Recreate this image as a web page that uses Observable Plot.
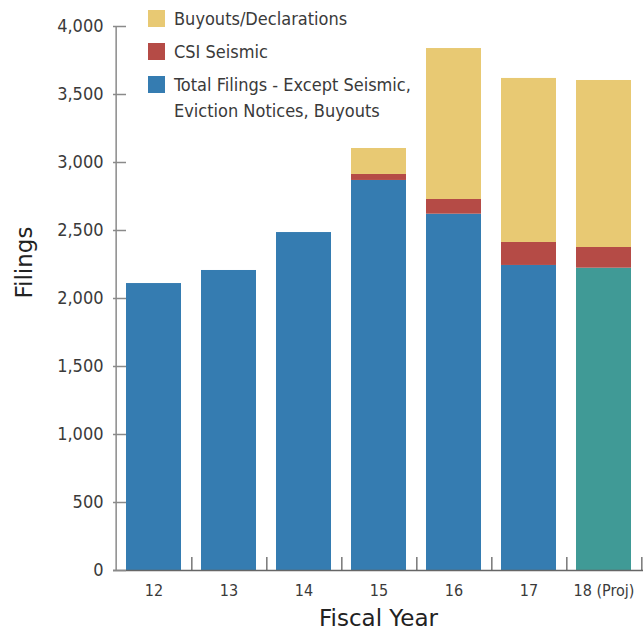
<!DOCTYPE html>
<html>
<head>
<meta charset="utf-8">
<script src="https://cdn.jsdelivr.net/npm/d3@7"></script>
<script src="https://cdn.jsdelivr.net/npm/@observablehq/plot@0.6"></script>
<style>
  body { margin: 0; background: #fff; }
  #wrap { position: relative; width: 643px; height: 636px; }
  .legend-row { position: absolute; left: 148px; font-family: "Liberation Sans Narrow", "DejaVu Sans Condensed", sans-serif; font-size: 18px; color: #3a3a3a; }
  .sw { position: absolute; left: 0; width: 17px; height: 17px; }
  .lt { position: absolute; left: 26px; line-height: 26px; white-space: nowrap; }
</style>
</head>
<body>
<div id="wrap"></div>
<script>
// ---- data ----
const years = ["12", "13", "14", "15", "16", "17", "18 (Proj)"];
const totalFilings = [2110, 2206, 2485, 2868, 2620, 2243, 2223];
const csiSeismic = [0, 0, 0, 44, 108, 169, 152];
const buyouts = [0, 0, 0, 191, 1110, 1206, 1228];
const yTicks = [0, 500, 1000, 1500, 2000, 2500, 3000, 3500, 4000];
const legendLabels = ["Buyouts/Declarations", "CSI Seismic", "Total Filings - Except Seismic,\nEviction Notices, Buyouts"];

// ---- styling ----
const colorKeys = ["Total", "Total (Proj)", "Seismic", "Buyouts"];
const colorRange = ["#357cb1", "#409a96", "#b54b46", "#e8c973"];
const tickFont = '"Liberation Sans Narrow", "DejaVu Sans Condensed", sans-serif';
const titleFont = '"DejaVu Sans", sans-serif';

const rows = [];
years.forEach((yr, i) => {
  const proj = yr.includes("Proj");
  rows.push({year: yr, series: "Total", key: proj ? "Total (Proj)" : "Total", value: totalFilings[i]});
  rows.push({year: yr, series: "Seismic", key: "Seismic", value: csiSeismic[i]});
  rows.push({year: yr, series: "Buyouts", key: "Buyouts", value: buyouts[i]});
});

const W = 643, H = 636, mL = 113, mR = 0, mT = 26, mB = 66;
const step = (W - mL - mR) / years.length;
const tickLen = 13;

const chart = Plot.plot({
  width: W, height: H,
  marginLeft: mL, marginRight: mR, marginTop: mT, marginBottom: mB,
  style: {fontFamily: tickFont, background: "#fff", color: "#3a3a3a", overflow: "visible"},
  x: {domain: years, paddingInner: 0.27, paddingOuter: 0.135, label: null},
  y: {domain: [0, 4000], label: null},
  color: {domain: colorKeys, range: colorRange},
  marks: [
    Plot.barY(rows, {x: "year", y: "value", z: "series", fill: "key", order: ["Total", "Seismic", "Buyouts"]}),
    // baseline
    Plot.ruleY([0], {stroke: "#666", strokeWidth: 1.5}),
    // y axis line at the left band edge
    Plot.ruleX([years[0]], {x: d => d, dx: -step / 2, y1: 0, y2: 4000, stroke: "#8a8a8a", strokeWidth: 1.5}),
    // y ticks pointing inward
    Plot.axisY(yTicks, {anchor: "left", tickSize: tickLen, dx: tickLen, stroke: "#8a8a8a", strokeWidth: 1.5,
      tickFormat: () => "", label: null}),
    // y tick labels
    Plot.axisY(yTicks, {anchor: "left", tickSize: 0, tickPadding: 10, fontSize: 18, fill: "#3a3a3a",
      tickFormat: d3.format(","), label: null}),
    // x ticks between bars pointing up
    Plot.axisX(years, {anchor: "bottom", tickSize: tickLen, dy: -tickLen, dx: step / 2, stroke: "#555", strokeWidth: 1.2,
      tickFormat: () => "", label: null}),
    // x labels
    Plot.axisX(years, {anchor: "bottom", tickSize: 0, tickPadding: 14, fontSize: 16, fill: "#3a3a3a", label: null}),
    Plot.text(["Fiscal Year"], {frameAnchor: "bottom", dy: 55, text: d => d, fontSize: 23, fontFamily: titleFont, fill: "#222"}),
    Plot.text(["Filings"], {frameAnchor: "left", dx: -89, rotate: -90, text: d => d, fontSize: 23, fontFamily: titleFont, fill: "#222"})
  ]
});

const wrap = document.getElementById("wrap");
wrap.appendChild(chart);

// legend (top to bottom: buyouts, seismic, total)
const legendColors = ["#e8c973", "#b54b46", "#357cb1"];
legendLabels.forEach((lab, i) => {
  const row = document.createElement("div");
  row.className = "legend-row";
  row.style.top = (10 + 33 * i) + "px";
  const sw = document.createElement("div");
  sw.className = "sw";
  sw.style.background = legendColors[i];
  const t = document.createElement("div");
  t.className = "lt";
  t.style.top = "-4.5px";
  lab.split("\n").forEach((line) => {
    const s = document.createElement("div");
    s.textContent = line;
    t.appendChild(s);
  });
  row.appendChild(sw);
  row.appendChild(t);
  wrap.appendChild(row);
});
</script>
</body>
</html>
